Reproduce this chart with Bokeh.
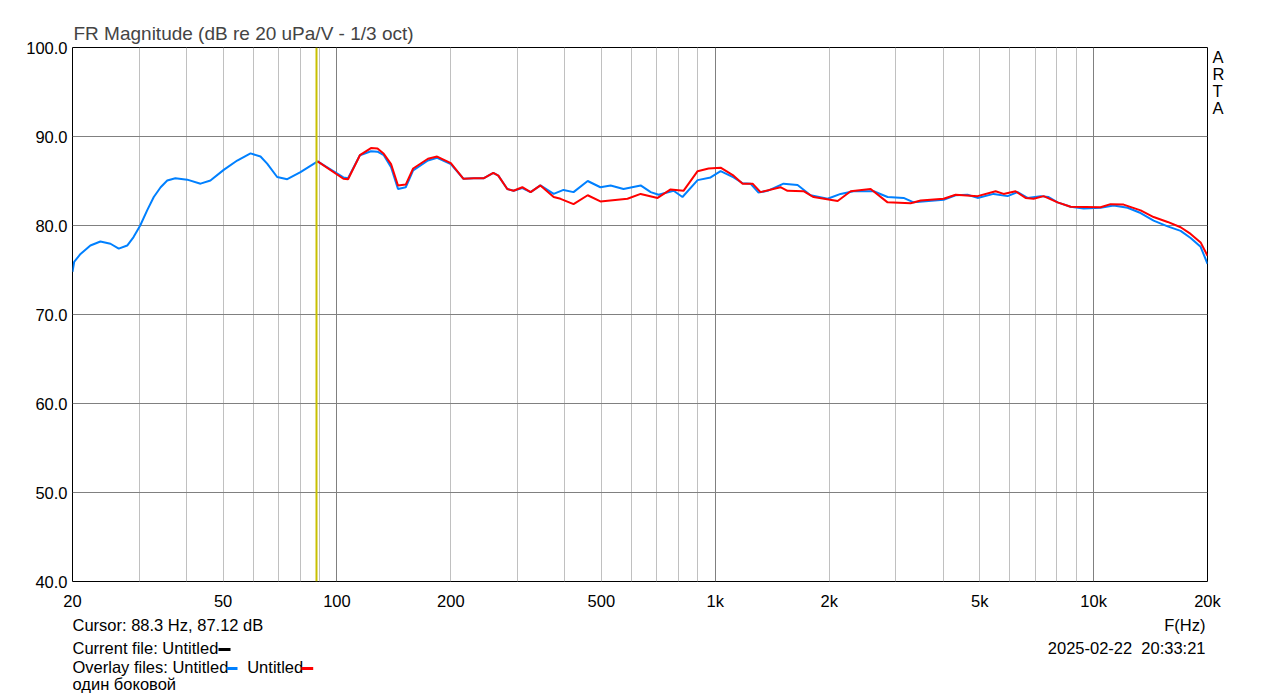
from bokeh.plotting import figure
from bokeh.layouts import column
from bokeh.models import (Range1d, FixedTicker, NumeralTickFormatter, Grid, Span, LinearAxis)
from bokeh.core.properties import value
from bokeh.embed import file_html
from bokeh.resources import INLINE

# ---- data ----
blue_freq = [20, 20.2, 21.0, 22.3, 23.7, 25.2, 26.5, 27.9, 29.0, 30.2, 31.5, 32.8, 34.2, 35.6, 37.4,
             40.2, 43.6, 46.3, 50.2, 54.5, 59.1, 62.8, 65.4, 69.5, 73.9, 80.1, 88.9,
             104, 107, 115, 123, 128, 133, 139, 145, 152, 159, 174, 184, 200, 216, 230, 244, 259,
             267, 282, 293, 309, 325, 345, 374, 397, 422, 460, 497, 529, 572, 635, 675, 708, 776,
             819, 898, 972, 1033, 1118, 1181, 1239, 1301, 1375, 1515, 1650, 1786, 1981, 2144, 2320,
             2622, 2854, 3146, 3344, 4014, 4318, 4644, 4936, 5440, 5924, 6296, 6690, 7244, 7604,
             8032, 8692, 9410, 10434, 11292, 12300, 13314, 14406, 15690, 16984, 18048, 19180, 20000]
blue_db = [74.8, 75.9, 76.8, 77.75, 78.2, 77.95, 77.4, 77.75, 78.7, 80.0, 81.7, 83.2, 84.3, 85.05, 85.3,
           85.15, 84.7, 85.05, 86.25, 87.3, 88.1, 87.75, 86.95, 85.45, 85.2, 86.0, 87.2,
           85.4, 85.3, 87.9, 88.35, 88.3, 87.9, 86.55, 84.1, 84.3, 86.2, 87.3, 87.6, 86.9, 85.25, 85.3,
           85.3, 85.9, 85.6, 84.1, 83.9, 84.2, 83.75, 84.5, 83.55, 84.0, 83.75, 85.0, 84.3, 84.5, 84.1,
           84.5, 83.75, 83.45, 83.9, 83.2, 85.1, 85.4, 86.1, 85.4, 84.75, 84.7, 83.7, 83.9, 84.7, 84.55,
           83.4, 83.0, 83.55, 83.85, 83.85, 83.2, 83.1, 82.6, 82.9, 83.4, 83.45, 83.1, 83.55, 83.3,
           83.75, 83.1, 83.3, 83.2, 82.6, 82.1, 81.9, 82.0, 82.25, 82.0, 81.4, 80.55, 79.9, 79.4, 78.6,
           77.6, 75.7]

red_freq = [88.9, 104, 107, 115, 123, 128, 133, 139, 145, 152, 159, 174, 184, 200, 216, 230, 244, 259,
            267, 282, 293, 309, 325, 345, 374, 390, 422, 460, 497, 552, 586, 635, 704, 762, 824, 898,
            960, 1033, 1118, 1181, 1255, 1317, 1487, 1552, 1711, 1819, 2106, 2280, 2574, 2854, 3284,
            3490, 4014, 4318, 4936, 5508, 5782, 6218, 6610, 6940, 7376, 8032, 8692, 10434, 11086,
            12002, 13314, 14406, 15690, 16984, 18048, 19180, 20000]
red_db = [87.2, 85.25, 85.2, 87.9, 88.7, 88.65, 88.05, 86.9, 84.5, 84.6, 86.4, 87.5, 87.75, 87.0, 85.25,
          85.3, 85.3, 85.9, 85.6, 84.1, 83.9, 84.3, 83.75, 84.5, 83.2, 83.0, 82.4, 83.4, 82.7, 82.9,
          83.0, 83.55, 83.1, 84.05, 83.9, 86.1, 86.4, 86.5, 85.6, 84.7, 84.7, 83.75, 84.3, 83.9, 83.85,
          83.2, 82.75, 83.85, 84.1, 82.6, 82.5, 82.8, 83.0, 83.45, 83.3, 83.85, 83.55, 83.85, 83.1,
          83.0, 83.3, 82.6, 82.1, 82.05, 82.4, 82.35, 81.7, 80.95, 80.4, 79.8, 79.05, 78.1, 76.6]

x_ticks = [20, 50, 100, 200, 500, 1000, 2000, 5000, 10000, 20000]
x_tick_labels = ["20", "50", "100", "200", "500", "1k", "2k", "5k", "10k", "20k"]
y_ticks = [40, 50, 60, 70, 80, 90, 100]
minor_grid = [30, 40, 50, 60, 70, 80, 90, 200, 300, 400, 500, 600, 700, 800, 900,
              2000, 3000, 4000, 5000, 6000, 7000, 8000, 9000]
major_grid = [100, 1000, 10000]
cursor_freq = 88.3

title_text = "FR Magnitude (dB re 20 uPa/V - 1/3 oct)"
side_letters = ["A", "R", "T", "A"]
cursor_text = "Cursor: 88.3 Hz, 87.12 dB"
current_text = "Current file: Untitled"
overlay_text = "Overlay files: Untitled"
overlay2_text = "Untitled"
note_text = "один боковой"
axis_name = "F(Hz)"
date_text = "2025-02-22"
time_text = "20:33:21"

FONT = "Liberation Sans"
FS = "16.5px"
W = 1270

p = figure(width=W, height=612, x_axis_type="log",
           x_range=Range1d(20, 20000), y_range=Range1d(40, 100),
           output_backend="svg", toolbar_location=None,
           min_border_left=72, min_border_right=W - 1207, min_border_top=47, min_border_bottom=31)
p.background_fill_color = "white"
p.border_fill_color = "white"
p.outline_line_color = "black"
p.outline_line_width = 1
p.outline_line_alpha = 1

p.title.text = title_text
p.title.text_font = FONT
p.title.text_font_size = "19px"
p.title.text_font_style = "normal"
p.title.align = "left"
p.title.offset = 1
p.title.standoff = 8

# side letters via a right axis on a pixel-like helper range
p.extra_y_ranges = {"side": Range1d(581, 47)}
side_pos = [56, 73, 90, 107]
side_axis = LinearAxis(y_range_name="side", ticker=FixedTicker(ticks=side_pos),
                       major_label_overrides={float(v): t for v, t in zip(side_pos, side_letters)})
p.add_layout(side_axis, "right")

for ax in (p.xaxis[0], p.yaxis[0], side_axis):
    ax.axis_line_color = None
    ax.major_tick_line_color = None
    ax.minor_tick_line_color = None
    ax.major_tick_out = 0
    ax.major_tick_in = 0
    ax.minor_tick_out = 0
    ax.minor_tick_in = 0
    ax.major_label_text_font = FONT
    ax.major_label_text_font_size = FS
    ax.major_label_text_color = "black"
side_axis.major_label_standoff = 5

p.xaxis[0].ticker = FixedTicker(ticks=x_ticks)
p.xaxis[0].major_label_overrides = {float(t): l for t, l in zip(x_ticks, x_tick_labels)}
p.xaxis[0].major_label_standoff = 10
p.yaxis[0].ticker = FixedTicker(ticks=y_ticks)
p.yaxis[0].formatter = NumeralTickFormatter(format="0.0")
p.yaxis[0].major_label_standoff = 5

# grids
p.xgrid[0].ticker = FixedTicker(ticks=minor_grid)
p.xgrid[0].grid_line_color = "#c0c0c0"
p.ygrid[0].ticker = FixedTicker(ticks=y_ticks)
p.ygrid[0].grid_line_color = "#808080"
p.add_layout(Grid(dimension=0, ticker=FixedTicker(ticks=major_grid), grid_line_color="#808080"))

# cursor
p.add_layout(Span(location=cursor_freq, dimension="height", line_color="#c8c000", line_width=2))

# curves
p.line(blue_freq, blue_db, line_color="#0080ff", line_width=2)
p.line(red_freq, red_db, line_color="#ff0000", line_width=2)

# ---- footer panel (its frame is aligned with the main frame: x 72..1207; y downward) ----
f = figure(width=W, height=86, x_range=Range1d(72, 1207), y_range=Range1d(698, 612),
           output_backend="svg", toolbar_location=None,
           x_axis_location=None, y_axis_location=None,
           min_border_left=72, min_border_right=W - 1207, min_border_top=0, min_border_bottom=0)
f.outline_line_color = None
f.background_fill_color = "white"
f.border_fill_color = "white"
f.xgrid.visible = False
f.ygrid.visible = False

f.text(x=[72, 72, 72, 246.7, 72], y=[624, 647.5, 666.5, 666.5, 683.5],
       text=[cursor_text, current_text, overlay_text, overlay2_text, note_text],
       text_font=value(FONT), text_font_size=FS, text_color="black",
       text_align="left", text_baseline="middle")
f.text(x=[1205, 1131.7, 1205], y=[624, 647, 647], text=[axis_name, date_text, time_text],
       text_font=value(FONT), text_font_size=FS, text_color="black",
       text_align="right", text_baseline="middle")
f.segment(x0=[218, 226, 301], y0=[649, 668, 668], x1=[230, 237, 312.7], y1=[649, 668, 668],
          line_color=["black", "#0080ff", "#ff0000"], line_width=3)

layout = column(p, f, spacing=0)
open("out.html", "w").write(file_html(layout, INLINE))
